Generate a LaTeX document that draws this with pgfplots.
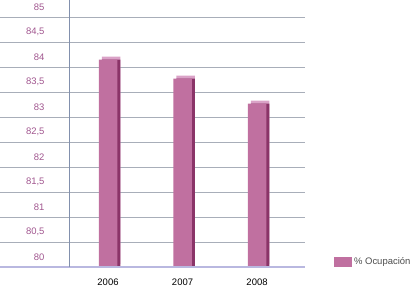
\documentclass[border=0pt]{standalone}
\usepackage{pgfplots}
\pgfplotsset{compat=1.18}
\usepackage{fontspec}
\setmainfont{Liberation Sans}
\definecolor{barc}{HTML}{C070A0}
\definecolor{bardark}{HTML}{8A3468}
\definecolor{barlight}{HTML}{DAA2C7}
\definecolor{gridc}{HTML}{A8AEB9}
\definecolor{axisc}{HTML}{8290AD}
\definecolor{basec}{HTML}{B9B8E0}
\definecolor{tickc}{HTML}{A0558E}
\begin{document}
\begin{tikzpicture}
\begin{axis}[
  scale only axis,
  width=305bp, height=250bp,
  xmin=-1.4497, xmax=2.644,
  ymin=80, ymax=85,
  clip=false,
  axis line style={draw=none},
  major tick length=0pt,
  xtick={0,1,2}, xticklabels={2006,2007,2008},
  ytick distance=0.5,
  ymajorgrids, grid style={gridc, line width=0.8pt},
  font=\fontsize{9.5}{11}\selectfont,
  xticklabel style={black, yshift=-8bp},
  yticklabel style={tickc, anchor=east, xshift=48bp, yshift=10bp},
  /pgf/number format/.cd, use comma, fixed, precision=1, assume math mode=true,
  /pgfplots/.cd,
  ybar, bar width=18.5bp,
  legend style={at={(1.085,0.02)}, anchor=west, draw=none, fill=none,
    font=\fontsize{9.5}{11}\selectfont\color{black!70}},
  legend image code/.code={\fill[barc] (0bp,-5bp) rectangle (18bp,5bp);},
]
\addplot[fill=barlight, draw=none, bar shift=3bp, yshift=3bp, forget plot] coordinates {(0,84.15) (1,83.77) (2,83.27)};
\addplot[fill=bardark, draw=none, bar shift=3bp, forget plot] coordinates {(0,84.15) (1,83.77) (2,83.27)};
\addplot[fill=barc, draw=none, bar shift=0bp] coordinates {(0,84.15) (1,83.77) (2,83.27)};
\addlegendentry{\% Ocupación}
\draw[basec, line width=1.5pt] (axis cs:-1.4497,80) -- (axis cs:2.644,80);
\draw[axisc, line width=0.8pt] (axis cs:-0.5235,80) -- (axis cs:-0.5235,85.34);
\coordinate (bl) at (rel axis cs:0,0);
\end{axis}
\pgfresetboundingbox
\path (bl) ++(0,-21bp) rectangle ++(412bp,288bp);
\end{tikzpicture}
\end{document}
